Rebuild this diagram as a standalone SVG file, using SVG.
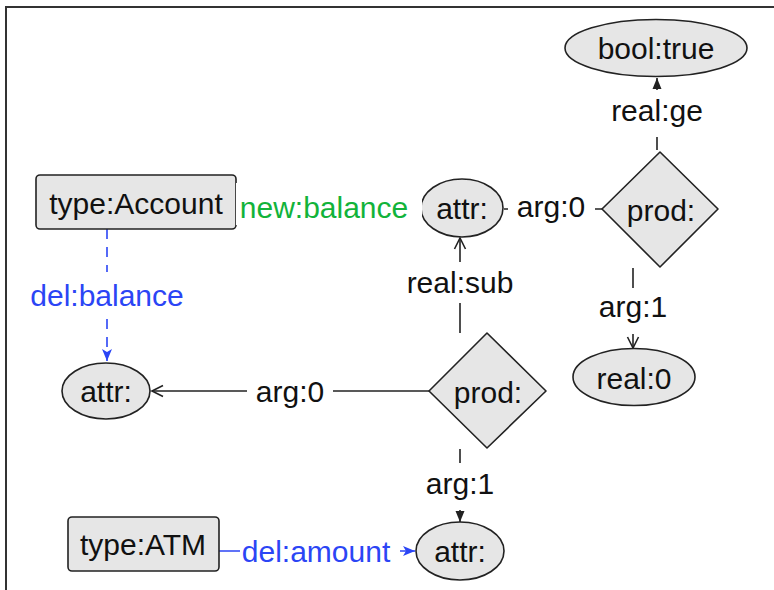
<svg xmlns="http://www.w3.org/2000/svg" width="774" height="590" viewBox="0 0 774 590">
<style>
text{font-family:"Liberation Sans",Arial,Helvetica,sans-serif;font-size:30px;text-anchor:middle;fill:#111}
.n{fill:#e6e6e6;stroke:#222;stroke-width:1.6}
.e{fill:none;stroke:#222;stroke-width:1.6}
.blue{stroke:#2b45f5}
.bg{fill:#fff}
.tb{fill:#2b45f5}
.tg{fill:#12b33a}
</style>
<defs>
<marker id="vee" markerUnits="userSpaceOnUse" markerWidth="16" markerHeight="14" refX="13" refY="7" orient="auto"><path d="M2,1.5 L13,7 L2,12.5" fill="none" stroke="#222" stroke-width="1.6"/></marker>
<marker id="tri" markerUnits="userSpaceOnUse" markerWidth="13" markerHeight="12" refX="11" refY="6" orient="auto"><path d="M0,1.5 L11,6 L0,10.5 z" fill="#222"/></marker>
<marker id="notch" markerUnits="userSpaceOnUse" markerWidth="14" markerHeight="12" refX="12" refY="6" orient="auto"><path d="M0,1 L12,6 L0,11 L3,6 z" fill="#2b45f5"/></marker>
</defs>
<rect width="774" height="590" fill="#fff"/>
<path d="M6,590 V7 H774" fill="none" stroke="#333" stroke-width="2"/>
<g id="connectors">
<path class="e" d="M657,150 V78" marker-end="url(#tri)"/>
<path class="e" d="M602,209 H504"/>
<path class="e" d="M460,333 V238" marker-end="url(#vee)"/>
<path class="e" d="M633,268 V348" marker-end="url(#vee)"/>
<path class="e" d="M429,391 H152" marker-end="url(#vee)"/>
<path class="e" d="M460,449 V522" marker-end="url(#tri)"/>
<path class="e blue" d="M107,229 V361" stroke-dasharray="10,8" marker-end="url(#notch)"/>
<path class="e blue" d="M219,551 H415" marker-end="url(#notch)"/>
<path class="e" style="stroke:#12b33a" d="M236,208 H421"/>
</g>
<g id="n-bool-true"><ellipse class="n" cx="656" cy="48" rx="91" ry="28.5"/><text x="656" y="59">bool:true</text></g>
<g id="n-prod-top"><path class="n" d="M660,152 L718,209 L660,267 L602,209 Z" stroke-linejoin="round"/><text x="661" y="221">prod:</text></g>
<g id="n-attr-top"><ellipse class="n" cx="462" cy="208" rx="41" ry="29"/><text x="462" y="219">attr:</text></g>
<g id="n-type-account"><rect class="n" x="36" y="175" width="200" height="54" rx="4"/><text x="136" y="214">type:Account</text></g>
<g id="n-real-0"><ellipse class="n" cx="634" cy="377" rx="61" ry="28.5"/><text x="634" y="389">real:0</text></g>
<g id="n-attr-left"><ellipse class="n" cx="106" cy="391" rx="44" ry="28"/><text x="106" y="402">attr:</text></g>
<g id="n-prod-mid"><path class="n" d="M487,333 L546,391 L487,448 L429,391 Z" stroke-linejoin="round"/><text x="488" y="403">prod:</text></g>
<g id="n-type-atm"><rect class="n" x="68" y="517" width="151" height="54" rx="4"/><text x="143" y="555">type:ATM</text></g>
<g id="n-attr-bottom"><ellipse class="n" cx="460" cy="551" rx="44" ry="29"/><text x="460" y="562">attr:</text></g>
<g id="edge-labels">
<rect class="bg" x="612" y="90" width="90" height="47"/><text x="657" y="121">real:ge</text>
<rect class="bg" x="508" y="192" width="87" height="36"/><text x="551" y="217">arg:0</text>
<rect class="bg" x="236" y="183" width="186" height="42"/><text class="tg" x="324" y="218">new:balance</text>
<rect class="bg" x="402" y="262" width="116" height="41"/><text x="460" y="293">real:sub</text>
<rect class="bg" x="595" y="288" width="76" height="46"/><text x="633" y="317">arg:1</text>
<rect class="bg" x="20" y="272" width="175" height="45"/><text class="tb" x="107" y="306">del:balance</text>
<rect class="bg" x="247" y="372" width="86" height="38"/><text x="290" y="402">arg:0</text>
<rect class="bg" x="422" y="463" width="76" height="47"/><text x="460" y="494">arg:1</text>
<rect class="bg" x="240" y="532" width="160" height="38"/><text class="tb" x="316" y="562">del:amount</text>
</g>
</svg>
